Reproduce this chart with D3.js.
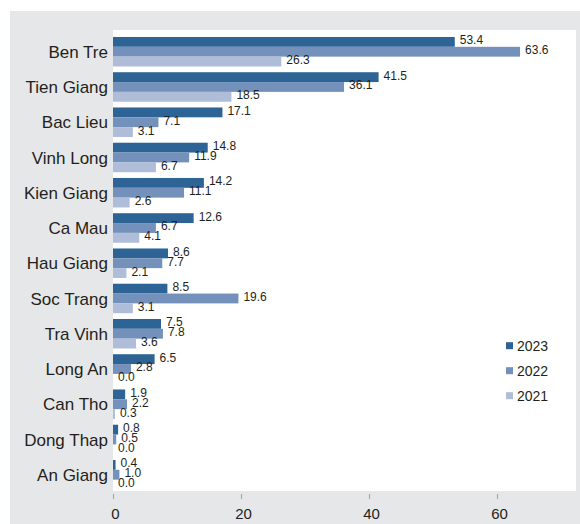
<!DOCTYPE html>
<html>
<head>
<meta charset="utf-8">
<script src="https://cdn.jsdelivr.net/npm/d3@7"></script>
<style>
  html, body { margin: 0; padding: 0; background: #fff; }
  svg { display: block; }
  text { font-family: "Liberation Sans", Arial, sans-serif; fill: #231f20; }
</style>
</head>
<body>
<svg id="chart" width="580" height="524"></svg>
<script>
// Provinces, top to bottom
const provinces = ["Ben Tre", "Tien Giang", "Bac Lieu", "Vinh Long", "Kien Giang", "Ca Mau",
  "Hau Giang", "Soc Trang", "Tra Vinh", "Long An", "Can Tho", "Dong Thap", "An Giang"];
const years = ["2023", "2022", "2021"];
const values2023 = [53.4, 41.5, 17.1, 14.8, 14.2, 12.6, 8.6, 8.5, 7.5, 6.5, 1.9, 0.8, 0.4];
const values2022 = [63.6, 36.1, 7.1, 11.9, 11.1, 6.7, 7.7, 19.6, 7.8, 2.8, 2.2, 0.5, 1.0];
const values2021 = [26.3, 18.5, 3.1, 6.7, 2.6, 4.1, 2.1, 3.1, 3.6, 0.0, 0.3, 0.0, 0.0];
const xTicks = [0, 20, 40, 60];
const colors = ["#2d6495", "#7391ba", "#afbdd8"];

const seriesByYear = { "2023": values2023, "2022": values2022, "2021": values2021 };
const rows = provinces.map((p, i) => ({
  province: p,
  bars: years.map(y => ({ year: y, value: seriesByYear[y][i] }))
}));

const svg = d3.select("#chart");

// panel background and plot area
svg.append("rect").attr("x", 10).attr("y", 11).attr("width", 570).attr("height", 513).attr("fill", "#e6e7e8");
svg.append("rect").attr("x", 113).attr("y", 30).attr("width", 463).attr("height", 461).attr("fill", "#ffffff");

const x = d3.scaleLinear().domain([0, 72]).range([113, 113 + 72 * 6.4]);
const y = d3.scaleBand().domain(provinces).range([34.1, 34.1 + 13 * 35.25])
  .paddingInner(0.163).paddingOuter(0.0816);
const yInner = d3.scaleBand().domain(years).range([0, y.bandwidth()]);
const color = d3.scaleOrdinal().domain(years).range(colors);

const groups = svg.append("g").selectAll("g").data(rows).join("g")
  .attr("transform", d => `translate(0,${y(d.province)})`);

groups.selectAll("rect").data(d => d.bars).join("rect")
  .attr("x", x(0))
  .attr("y", d => yInner(d.year))
  .attr("width", d => x(d.value) - x(0))
  .attr("height", yInner.bandwidth())
  .attr("fill", d => color(d.year));

groups.selectAll("text.val").data(d => d.bars).join("text")
  .attr("class", "val")
  .attr("x", d => x(d.value) + 5)
  .attr("y", d => yInner(d.year) + yInner.bandwidth() / 2 + 2.5)
  .attr("font-size", 12)
  .text(d => d.value.toFixed(1));

// category labels
svg.append("g").selectAll("text").data(provinces).join("text")
  .attr("x", 108)
  .attr("y", d => y(d) + y.bandwidth() / 2)
  .attr("dy", "0.36em")
  .attr("text-anchor", "end")
  .attr("font-size", 17)
  .text(d => d);

// x axis
const xAxis = d3.axisBottom(x).tickValues(xTicks).tickSize(5).tickPadding(9).tickFormat(d3.format("d"));
const gx = svg.append("g").attr("transform", "translate(0,494)").call(xAxis);
gx.select(".domain").remove();
gx.selectAll(".tick line").attr("stroke", "#a7a9ac").attr("stroke-width", 1.2);
gx.selectAll(".tick text").attr("font-size", 15).attr("fill", "#231f20")
  .attr("font-family", "\"Liberation Sans\", Arial, sans-serif").attr("dx", 2);

// legend
const legend = svg.append("g").selectAll("g").data(years).join("g")
  .attr("transform", (d, i) => `translate(506,${350.7 + i * 25})`);
legend.append("rect").attr("x", 0).attr("y", -8.5).attr("width", 7).attr("height", 7)
  .attr("fill", d => color(d));
legend.append("text").attr("x", 11).attr("y", 0).attr("font-size", 14).text(d => d);
</script>
</body>
</html>
